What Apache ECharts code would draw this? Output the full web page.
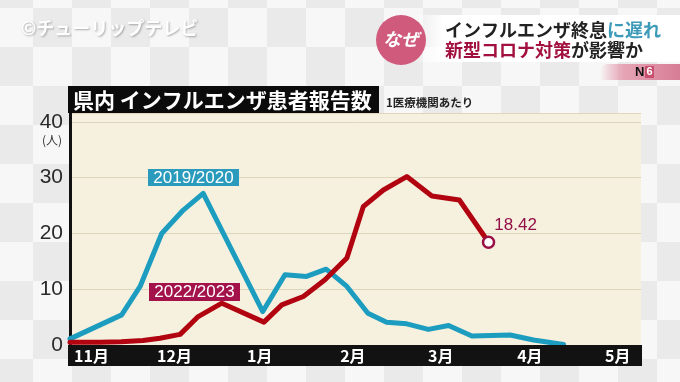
<!DOCTYPE html>
<html><head><meta charset="utf-8">
<script src="https://cdn.jsdelivr.net/npm/echarts@6/dist/echarts.min.js"></script>
<style>
html,body{margin:0;padding:0;}
body{width:680px;height:382px;overflow:hidden;background-color:#f3f3f3;
background-image:conic-gradient(#eaeaea 25%,#f7f7f7 0 50%,#eaeaea 0 75%,#f7f7f7 0);
background-size:78px 78px;background-position:-6px 8px;}
#c{width:680px;height:382px;}
</style></head>
<body><div id="c"></div>
<script>
// ---- data (x = days from 1 Nov, y = patients per medical institution) ----
const seriesNames = ['2019/2020', '2022/2023'];
const days2019 = [0, 17.7, 24, 31.4, 38.8, 45.6, 66, 73.6, 81, 87.7, 94.8, 102, 108.4, 115.3, 122.7, 129.6, 137.6, 150.7, 158.7, 169];
const vals2019 = [1.1, 5.4, 10.5, 20.0, 24.2, 27.2, 6.0, 12.6, 12.3, 13.6, 10.5, 5.7, 4.1, 3.8, 2.8, 3.5, 1.6, 1.8, 0.9, 0.1];
const days2022 = [0, 10.3, 17.5, 25, 30.8, 37.7, 43.9, 52, 66.4, 72.5, 79.9, 87.3, 94.8, 100.4, 107.3, 115.3, 123.9, 133.3, 143.3];
const vals2022 = [0.5, 0.5, 0.6, 0.8, 1.2, 1.9, 5.1, 7.5, 4.1, 7.2, 8.7, 11.7, 15.6, 24.8, 27.8, 30.2, 26.7, 26.0, 18.42];
const monthLabels = ['11月', '12月', '1月', '2月', '3月', '4月', '5月'];
const monthLabelDays = [1.4, 29.8, 60.6, 92.5, 122.6, 153.1, 183.2];
const yTicks = [0, 10, 20, 30, 40];

const colBlue = '#1c9dbf', colRed = '#b10410';

const d2019 = days2019.map((d, i) => [d, vals2019[i]]);
const d2022 = days2022.map((d, i) => [d, vals2022[i]]);
const last = d2022.length - 1;
d2022[last] = {
  value: d2022[last], symbol: 'circle', symbolSize: 11,
  itemStyle: {color: '#fff', borderColor: '#9a1045', borderWidth: 2.5},
  label: {show: true, position: 'right', offset: [-6, -17], color: '#931048',
    fontSize: 17, fontFamily: 'Liberation Sans', formatter: p => String(p.value[1])}
};

const chart = echarts.init(document.getElementById('c'), null, {renderer: 'canvas'});
const jp = '"Noto Sans CJK JP"';
chart.setOption({
  animation: false,
  backgroundColor: 'transparent',
  grid: {left: 70, right: 39, top: 113, bottom: 37, show: true, backgroundColor: '#f6f1df', borderWidth: 0},
  xAxis: {
    type: 'value', min: 0, max: 195.5, z: 150,
    axisLine: {show: false}, axisTick: {show: false}, splitLine: {show: false},
    axisLabel: {
      customValues: monthLabelDays, align: 'left', margin: 3,
      color: '#ffffff', fontSize: 16, fontWeight: 'bold', fontFamily: jp,
      formatter: v => {
        let bi = 0;
        monthLabelDays.forEach((m, i) => { if (Math.abs(m - v) < Math.abs(monthLabelDays[bi] - v)) bi = i; });
        return monthLabels[bi];
      }
    }
  },
  yAxis: {
    type: 'value', min: 0, max: 41.6, interval: 10,
    axisLine: {show: true, lineStyle: {color: '#111', width: 3}},
    axisTick: {show: false},
    splitLine: {show: true, lineStyle: {color: '#ddd5bc', width: 1}},
    axisLabel: {showMaxLabel: false, color: '#2a2a2a', fontSize: 21, margin: 7, fontFamily: 'Liberation Sans',
      formatter: v => yTicks.indexOf(v) >= 0 ? String(v) : ''}
  },
  series: [
    {name: seriesNames[0], type: 'line', data: d2019, symbol: 'none', silent: true, z: 2,
     lineStyle: {color: colBlue, width: 5, join: 'round', cap: 'round'}},
    {name: seriesNames[1], type: 'line', data: d2022, symbol: 'none', silent: true, z: 3,
     lineStyle: {color: colRed, width: 5, join: 'round', cap: 'round'}}
  ],
  graphic: [
    // x-axis black band
    {type: 'rect', z: 100, shape: {x: 68, y: 345, width: 574, height: 21}, style: {fill: '#121212'}},
    // title bar
    {type: 'rect', z: 100, shape: {x: 68, y: 86, width: 311, height: 27}, style: {fill: '#0b0b0b'}},
    {type: 'text', z: 101, x: 73, y: 100, style: {text: '県内 インフルエンザ患者報告数', fill: '#fff',
      font: 'bold 21px ' + jp, verticalAlign: 'middle'}},
    {type: 'text', z: 101, x: 386, y: 103, style: {text: '1医療機関あたり', fill: '#222',
      font: 'bold 11.5px ' + jp, verticalAlign: 'middle'}},
    {type: 'text', z: 101, x: 52, y: 140, style: {text: '(人)', fill: '#333',
      font: '12px ' + jp, align: 'center', verticalAlign: 'middle'}},
    // series name boxes
    {type: 'rect', z: 101, shape: {x: 148, y: 169, width: 91, height: 17}, style: {fill: '#2a9bbd'}},
    {type: 'text', z: 102, x: 193.5, y: 178, style: {text: seriesNames[0], fill: '#fff',
      font: '17px "Liberation Sans"', align: 'center', verticalAlign: 'middle'}},
    {type: 'rect', z: 101, shape: {x: 149, y: 283, width: 91, height: 18}, style: {fill: '#a3124a'}},
    {type: 'text', z: 102, x: 194.5, y: 292.5, style: {text: seriesNames[1], fill: '#fff',
      font: '17px "Liberation Sans"', align: 'center', verticalAlign: 'middle'}},
    // watermark
    {type: 'text', z: 101, x: 21, y: 28, style: {text: '©チューリップテレビ', fill: 'rgba(255,255,255,0.97)',
      font: 'bold 18px ' + jp, verticalAlign: 'middle', textShadowColor: 'rgba(0,0,0,0.3)', textShadowBlur: 2,
      textShadowOffsetX: 1, textShadowOffsetY: 1}},
    // header banner
    {type: 'rect', z: 100, shape: {x: 412, y: 15, width: 268, height: 47},
      style: {fill: new echarts.graphic.LinearGradient(0, 0, 1, 0, [
        {offset: 0, color: 'rgba(255,255,255,0)'}, {offset: 0.12, color: '#ffffff'}, {offset: 1, color: '#ffffff'}])}},
    {type: 'circle', z: 101, shape: {cx: 401, cy: 40, r: 25}, style: {fill: '#cf5a7c'}},
    {type: 'text', z: 102, x: 401, y: 39, style: {text: 'なぜ', fill: '#fff',
      font: 'italic bold 18px ' + jp, align: 'center', verticalAlign: 'middle'}},
    {type: 'text', z: 102, x: 445, y: 30, style: {
      text: '{a|インフルエンザ終息}{b|に遅れ}', verticalAlign: 'middle',
      rich: {a: {fill: '#222', font: 'bold 18px ' + jp}, b: {fill: '#3d9ab8', font: 'bold 18px ' + jp}}}},
    {type: 'text', z: 102, x: 445, y: 50, style: {
      text: '{a|新型コロナ対策}{b|が影響か}', verticalAlign: 'middle',
      rich: {a: {fill: '#a2103f', font: 'bold 18px ' + jp}, b: {fill: '#222', font: 'bold 18px ' + jp}}}},
    // N6 badge
    {type: 'rect', z: 100, shape: {x: 600, y: 64, width: 80, height: 16, r: [8, 0, 0, 0]},
      style: {fill: new echarts.graphic.LinearGradient(0, 0, 1, 0, [
        {offset: 0, color: 'rgba(226,150,170,0)'}, {offset: 0.3, color: '#e6a4b4'}, {offset: 1, color: '#d67d96'}])}},
    {type: 'text', z: 102, x: 635, y: 72, style: {text: 'N', fill: '#111', font: 'bold 13px "Liberation Sans"', verticalAlign: 'middle'}},
    {type: 'rect', z: 101, shape: {x: 645, y: 66, width: 9, height: 12}, style: {fill: '#c8506e'}},
    {type: 'text', z: 102, x: 649.5, y: 72, style: {text: '6', fill: '#fff', font: 'bold 11px "Liberation Sans"', align: 'center', verticalAlign: 'middle'}}
  ]
});
</script>
</body></html>
